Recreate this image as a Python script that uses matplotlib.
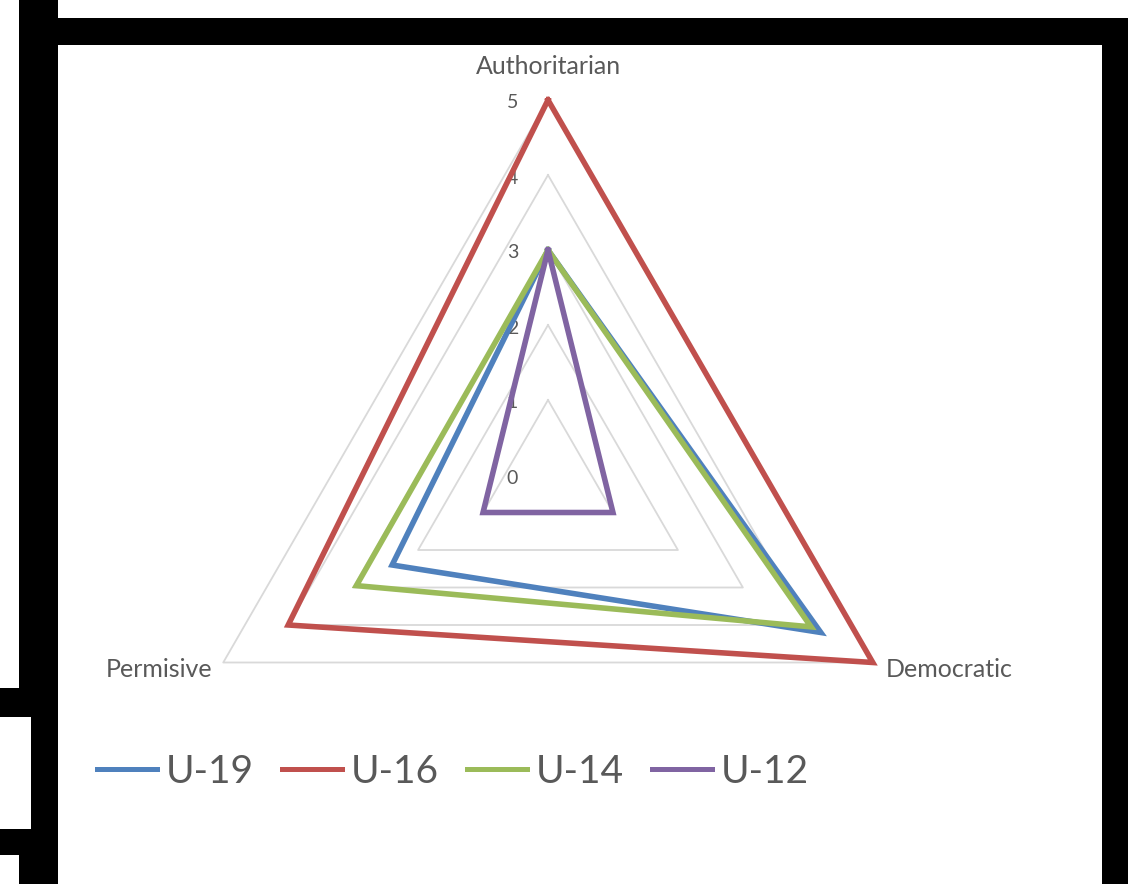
import numpy as np
import matplotlib
matplotlib.use("Agg")
import matplotlib.pyplot as plt
from matplotlib.patches import Rectangle

plt.rcParams['font.family'] = ['Lato', 'DejaVu Sans']

# data
categories = ['Authoritarian', 'Democratic', 'Permisive']
series_names = ['U-19', 'U-16', 'U-14', 'U-12']
u19 = [3, 4.2, 2.4]
u16 = [5, 5, 4]
u14 = [3, 4.05, 2.95]
u12 = [3, 1, 1]
series_values = [u19, u16, u14, u12]
ticks = [0, 1, 2, 3, 4, 5]

colors = ['#4F81BD', '#C0504D', '#9BBB59', '#8064A2']
text_col = '#595959'
grid_col = '#d9d9d9'

W, H = 1131, 884
fig = plt.figure(figsize=(W / 100, H / 100), dpi=100)
fig.patch.set_facecolor('white')


def px(x0, y0, x1, y1):
    # pixel box (from top-left) -> figure fraction rect
    return (x0 / W, 1 - y1 / H), (x1 - x0) / W, (y1 - y0) / H


# black frame around the screenshot
for box in [(19, 0, 58, 717), (31, 717, 58, 829), (19, 829, 58, 884),
            (0, 688, 58, 717), (0, 829, 58, 855),
            (46, 18, 1128, 45), (1102, 18, 1128, 884)]:
    xy, w, h = px(*box)
    fig.patches.append(Rectangle(xy, w, h, transform=fig.transFigure,
                                 facecolor='black', edgecolor='none', zorder=10))

# radar axes: centre at (548, 475) px, radius 375 px
(l, b), w, h = px(173, 100, 923, 850)
ax = fig.add_axes([l, b, w, h], projection='polar')
ax.set_theta_zero_location('N')
ax.set_theta_direction(-1)
ax.set_ylim(0, ticks[-1])
ax.grid(False)
ax.set_xticks([])
ax.set_yticks([])
ax.spines['polar'].set_visible(False)
ax.patch.set_alpha(0)

theta = np.radians(np.arange(len(categories)) * 360 / len(categories))
theta_c = np.append(theta, theta[0])

# triangular gridlines
for r in ticks[1:]:
    ax.plot(theta_c, [r] * len(theta_c), color=grid_col, lw=1.3, zorder=1, clip_on=False)

# value labels along the top axis
for r in ticks:
    ax.annotate(str(r), xy=(0, r), xytext=(-30, -3), textcoords='offset pixels',
                ha='right', va='center', fontsize=14, color=text_col, zorder=2)

lines = []
for name, vals, c in zip(series_names, series_values, colors):
    ln, = ax.plot(theta_c, vals + [vals[0]], color=c, lw=4, label=name,
                  solid_joinstyle='miter', zorder=3, clip_on=False)
    lines.append(ln)

# category labels
offsets = [((0, 34), 'center'), ((13, -7), 'left'), ((-11, -7), 'right')]
for t, cat, (off, ha) in zip(theta, categories, offsets):
    ax.annotate(cat, xy=(t, ticks[-1]), xytext=off, textcoords='offset pixels',
                ha=ha, va='center', fontsize=18, color=text_col)

leg = fig.legend(handles=lines, loc='center left', bbox_to_anchor=(97 / W, 1 - 772 / H),
                 ncol=4, frameon=False, fontsize=28, handlelength=1.55,
                 handletextpad=0.22, columnspacing=0.72, borderpad=0, borderaxespad=0)
for t in leg.get_texts():
    t.set_color(text_col)
for lh in leg.get_lines():
    lh.set_linewidth(3.6)

fig.savefig('out.png', dpi=100)
